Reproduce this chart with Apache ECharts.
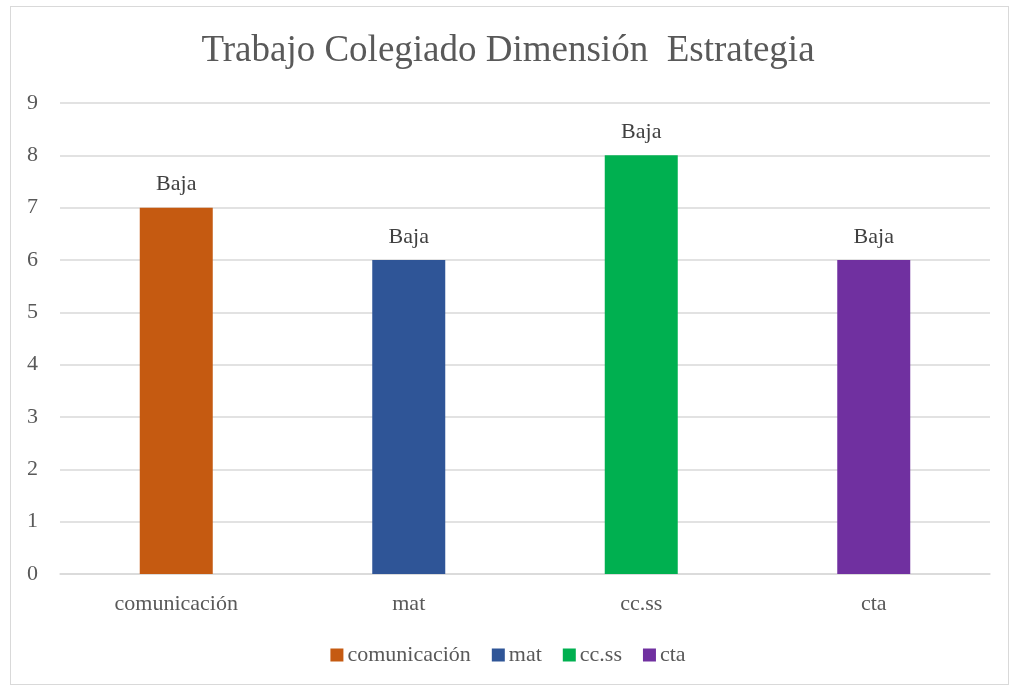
<!DOCTYPE html>
<html>
<head>
<meta charset="utf-8">
<style>
  html, body { margin: 0; padding: 0; background: #fff; }
  #chart { width: 1016px; height: 688px; }
  .frame { position: absolute; left: 10px; top: 6px; width: 999px; height: 679px; border: 1px solid #d9d9d9; box-sizing: border-box; pointer-events: none; }
</style>
<script src="https://cdn.jsdelivr.net/npm/echarts@6/dist/echarts.min.js"></script>
</head>
<body>
<div id="chart"></div>
<div class="frame"></div>
<script>
// datos del gráfico
const categorias = ['comunicación', 'mat', 'cc.ss', 'cta'];
const valores = [7, 6, 8, 6];
const etiquetas = ['Baja', 'Baja', 'Baja', 'Baja'];
const colores = ['#C55A11', '#2F5597', '#00B050', '#7030A0'];
const yTicks = [0, 1, 2, 3, 4, 5, 6, 7, 8, 9];

const fuente = '"Liberation Serif", "Times New Roman", serif';
const gris = '#595959';

function initChart() {
    const chartDom = document.getElementById('chart');
    const myChart = echarts.init(chartDom);

    // una serie por categoría, apiladas para que queden centradas
    const series = categorias.map((nombre, i) => ({
        name: nombre,
        type: 'bar',
        stack: 'total',
        barWidth: 73,
        data: categorias.map((c, j) => (j === i ? valores[i] : '-')),
        itemStyle: { color: colores[i] },
        label: {
            show: true,
            position: 'top',
            distance: 12,
            formatter: () => etiquetas[i],
            color: '#404040',
            fontFamily: fuente,
            fontSize: 22
        }
    }));

    const option = {
        backgroundColor: '#fff',
        animation: false,
        title: {
            text: 'Trabajo Colegiado Dimensión  Estrategia',
            left: 'center',
            top: 28,
            textStyle: {
                fontFamily: fuente,
                fontWeight: 'normal',
                fontSize: 37,
                color: gris
            }
        },
        legend: {
            bottom: 17,
            left: 'center',
            itemWidth: 13,
            itemHeight: 13,
            itemGap: 21,
            icon: 'rect',
            textStyle: { fontFamily: fuente, fontSize: 22, color: gris, padding: [0, 0, 0, -1] },
            data: categorias
        },
        grid: {
            top: 103,
            left: 60,
            right: 26,
            bottom: 114
        },
        xAxis: {
            type: 'category',
            data: categorias,
            axisLine: { lineStyle: { color: '#d9d9d9', width: 1.5 } },
            axisTick: { show: false },
            axisLabel: { color: gris, fontFamily: fuente, fontSize: 22, margin: 19 }
        },
        yAxis: {
            type: 'value',
            min: yTicks[0],
            max: yTicks[yTicks.length - 1],
            interval: 1,
            axisLine: { show: false },
            axisTick: { show: false },
            axisLabel: { color: gris, fontFamily: fuente, fontSize: 22, margin: 22 },
            splitLine: { lineStyle: { color: '#d9d9d9', width: 1.5 } }
        },
        series: series
    };

    myChart.setOption(option);
}

initChart();
</script>
</body>
</html>
